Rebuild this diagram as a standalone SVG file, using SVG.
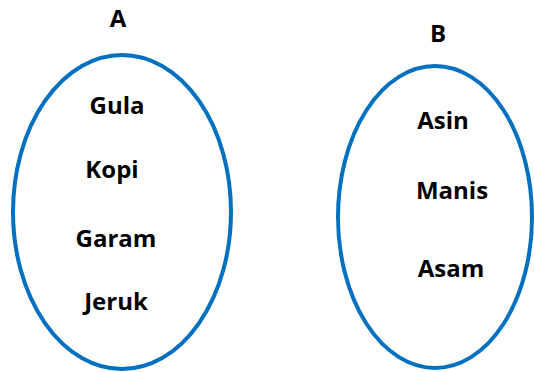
<svg xmlns="http://www.w3.org/2000/svg" width="534" height="372" viewBox="0 0 534 372">
<style>
.set{fill:none;stroke:#0070C0;stroke-width:4}
.t{font-family:"Open Sans","Liberation Sans",sans-serif;font-weight:700;font-size:24px;fill:#000;text-anchor:middle}
</style>
<rect width="534" height="372" fill="#fff"/>
<g id="setA">
<ellipse class="set" cx="122" cy="212" rx="109" ry="157"/>
<text class="t" x="118" y="27">A</text>
<text class="t" x="117" y="114">Gula</text>
<text class="t" x="112" y="178">Kopi</text>
<text class="t" x="116" y="247">Garam</text>
<text class="t" x="116" y="310">Jeruk</text>
</g>
<g id="setB">
<ellipse class="set" cx="435" cy="217" rx="97" ry="151"/>
<text class="t" x="438" y="42">B</text>
<text class="t" x="443" y="129">Asin</text>
<text class="t" x="452" y="199">Manis</text>
<text class="t" x="451" y="277">Asam</text>
</g>
<g id="connectors"/>
</svg>
